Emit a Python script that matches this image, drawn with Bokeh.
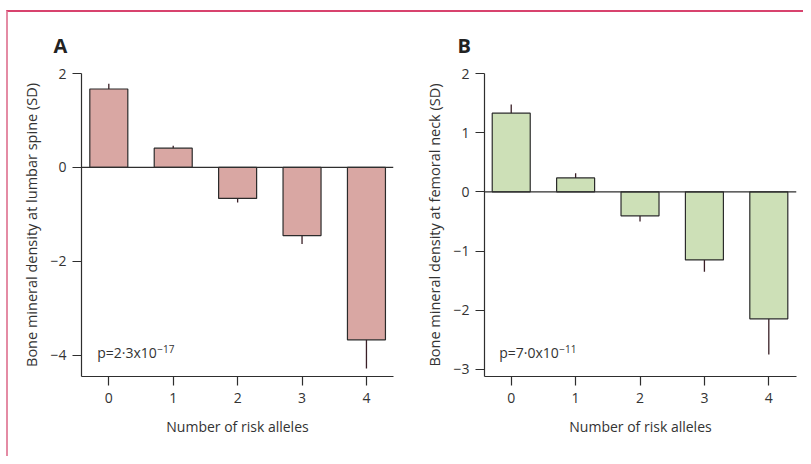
from bokeh.plotting import figure
from bokeh.layouts import row
from bokeh.models import FixedTicker, Span, Label, Range1d, ColumnDataSource
from bokeh.embed import file_html
from bokeh.resources import INLINE

# ---- data ----
alleles = [0, 1, 2, 3, 4]
lumbar_mean = [1.67, 0.41, -0.66, -1.45, -3.67]
lumbar_err = [0.11, 0.05, 0.085, 0.18, 0.61]
femoral_mean = [1.33, 0.236, -0.405, -1.15, -2.145]
femoral_err = [0.145, 0.08, 0.095, 0.20, 0.605]
lumbar_yticks = [-4, -2, 0, 2]
femoral_yticks = [-3, -2, -1, 0, 1, 2]
x_tick_labels = ["0", "1", "2", "3", "4"]

FONT = "Open Sans"
TXT = "#333333"
AX = "#2e2e2e"


def fmt(v):
    return ("\u2212" + str(abs(v))) if v < 0 else str(v)


def panel(letter, means, errs, yticks, yr, xr, fill, ylabel, p_main, p_exp,
          p_xy, sup_dy, width, min_left, title_offset):
    p = figure(width=width, height=444, output_backend="svg", toolbar_location=None,
               x_range=Range1d(*xr), y_range=Range1d(*yr),
               min_border_left=min_left, min_border_right=7,
               min_border_top=61, min_border_bottom=80)
    p.outline_line_color = None
    p.grid.visible = False
    p.background_fill_color = "white"
    p.border_fill_color = "white"

    ends = [m + (e if m >= 0 else -e) for m, e in zip(means, errs)]
    src = ColumnDataSource(dict(x=alleles, top=means, end=ends))
    p.segment(x0="x", y0="top", x1="x", y1="end", source=src,
              line_color="#3a1f27", line_width=1.3)
    p.vbar(x="x", top="top", bottom=0, width=0.59, source=src,
           fill_color=fill, line_color="#2b2b2b", line_width=1.2)
    p.add_layout(Span(location=0, dimension="width", line_color=AX, line_width=1.2))

    for ax in (p.xaxis[0], p.yaxis[0]):
        ax.axis_line_color = AX
        ax.axis_line_width = 1.2
        ax.major_tick_line_color = AX
        ax.major_tick_line_width = 1.2
        ax.major_tick_out = 9
        ax.major_tick_in = 0
        ax.minor_tick_line_color = None
        ax.major_label_text_font = FONT
        ax.major_label_text_font_size = "14px"
        ax.major_label_text_color = TXT
        ax.axis_label_text_font = FONT
        ax.axis_label_text_font_size = "14px"
        ax.axis_label_text_font_style = "normal"
        ax.axis_label_text_color = TXT

    p.xaxis.ticker = FixedTicker(ticks=alleles)
    p.xaxis.major_label_overrides = {a: t for a, t in zip(alleles, x_tick_labels)}
    p.xaxis.axis_label = "Number of risk alleles"
    p.xaxis.major_label_standoff = 7
    p.xaxis.axis_label_standoff = 11

    p.yaxis.ticker = FixedTicker(ticks=yticks)
    p.yaxis.major_label_overrides = {t: fmt(t) for t in yticks}
    p.yaxis.axis_label = ylabel
    p.yaxis.axis_label_text_font_size = "14.5px"
    p.yaxis.major_label_standoff = 6
    p.yaxis.axis_label_standoff = 6

    p.title.text = letter
    p.title.align = "left"
    p.title.offset = title_offset
    p.title.text_font = FONT
    p.title.text_font_size = "20px"
    p.title.text_font_style = "bold"
    p.title.text_color = "#222222"
    p.title.standoff = 30

    p.add_layout(Label(x=p_xy[0], y=p_xy[1], text=p_main, text_font=FONT,
                       text_font_size="14px", text_color=TXT))
    p.add_layout(Label(x=p_xy[0], y=p_xy[1] + sup_dy, x_offset=60, text=p_exp,
                       text_font=FONT, text_font_size="10px", text_color=TXT))
    return p


pa = panel("A", lumbar_mean, lumbar_err, lumbar_yticks, (-4.45, 2.0), (-0.424, 4.42),
           "#d9a7a3", "Bone mineral density at lumbar spine (SD)",
           "p=2\u00b73x10", "\u221217", (-0.18, -4.15), 0.19, 392, 73, -28)
pb = panel("B", femoral_mean, femoral_err, femoral_yticks, (-3.12, 2.0), (-0.415, 4.43),
           "#cde0b7", "Bone mineral density at femoral neck (SD)",
           "p=7\u00b70x10", "\u221211", (-0.186, -2.88), 0.152, 403, 84, -27)

layout = row(pa, pb, styles={"border-top": "2px solid #d8436e",
                             "border-left": "2px solid #e48ba4",
                             "margin-top": "10px", "margin-left": "6px"})

open("out.html", "w").write(file_html(layout, INLINE))
